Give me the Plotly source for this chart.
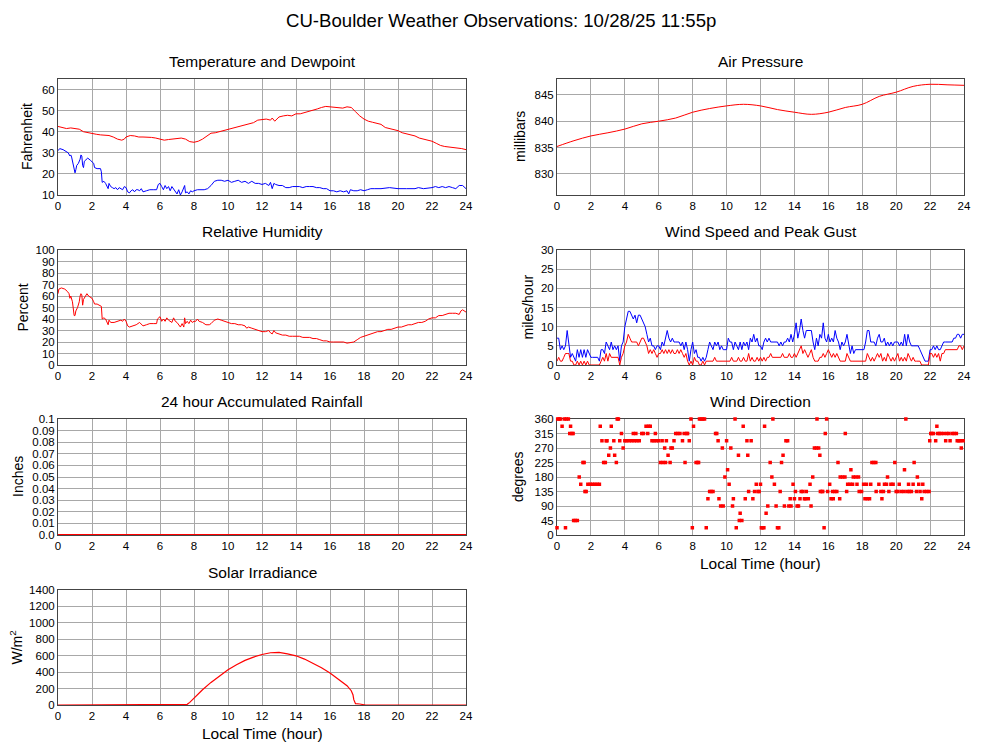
import plotly.graph_objects as go

# ---------------- DATA ----------------
temp_hours = [0, 0.25, 0.5, 0.75, 1.0, 1.25, 1.5, 1.75, 2.0, 2.25, 2.5, 2.75, 3.0, 3.25, 3.5, 3.75, 3.9,
              4.0, 4.25, 4.5, 4.75, 5.0, 5.25, 5.5, 5.75, 6.0, 6.25, 6.5, 6.75, 7.0, 7.25, 7.5, 7.75,
              8.0, 8.25, 8.5, 8.75, 9.0, 9.25, 9.5, 9.75, 10.0, 10.25, 10.5, 10.75, 11.0, 11.25, 11.5,
              11.75, 12.0, 12.25, 12.5, 12.6, 12.75, 13.0, 13.25, 13.5, 13.75, 14.0, 14.25, 14.5, 14.75,
              15.0, 15.25, 15.5, 15.75, 16.0, 16.25, 16.5, 16.75, 17.0, 17.25, 17.5, 17.75, 18.0, 18.25,
              18.5, 18.75, 19.0, 19.25, 19.5, 19.75, 20.0, 20.25, 20.5, 20.75, 21.0, 21.25, 21.5, 21.75,
              22.0, 22.25, 22.5, 22.75, 23.0, 23.25, 23.5, 23.75, 24.0]
temperature = [42.5, 42, 41.5, 41.8, 41.5, 41.2, 40, 39.5, 39, 38.8, 38.5, 38.3, 38.2, 37.5, 36.5, 36, 36.5,
               37.5, 38.2, 38, 37.5, 37.5, 37.5, 37.3, 37, 36.5, 36, 36.3, 36.5, 36.8, 37, 36.5, 35.3,
               35, 35.5, 36.5, 38, 39.3, 39.5, 40, 40.5, 41, 41.5, 42, 42.5, 43.2, 43.8, 44.3,
               45.5, 45.8, 46, 45.5, 46.5, 45, 47, 47.5, 47.8, 47.5, 48.5, 48.5, 49, 49.5,
               50, 50.8, 51.5, 52, 51.8, 51.5, 51.2, 51.2, 51.8, 51.5, 49.5, 47.5, 46, 45,
               44.5, 44, 43.5, 42, 41.5, 41, 40.5, 39.5, 39, 38.8, 38, 37, 36.5, 36,
               35.5, 34.5, 33.5, 33, 32.8, 32.5, 32.3, 32, 31.5]

dew_hours = [0, 0.1, 0.3, 0.5, 0.6, 0.7, 0.75, 0.8, 0.9, 0.95, 1.0, 1.05, 1.1, 1.2, 1.3, 1.35, 1.4, 1.45,
             1.5, 1.55, 1.65, 1.75, 1.9, 2.0, 2.1, 2.15, 2.3, 2.5, 2.55, 2.6, 2.7, 2.8, 2.9, 2.95, 3.0,
             3.1, 3.2, 3.3, 3.4, 3.5, 3.6, 3.7, 3.8, 3.9, 4.0, 4.1, 4.2, 4.3, 4.4, 4.5, 4.6, 4.7, 4.8,
             4.9, 5.0, 5.2, 5.4, 5.6, 5.8, 5.9, 6.0, 6.1, 6.2, 6.3, 6.4, 6.5, 6.6, 6.7, 6.8, 6.9, 7.0,
             7.1, 7.2, 7.3, 7.4, 7.45, 7.5, 7.6, 7.7, 7.8, 7.9, 8.0, 8.2, 8.4, 8.6, 8.8, 9.0, 9.2, 9.4,
             9.6, 9.8, 10.0, 10.2, 10.4, 10.6, 10.8, 11.0, 11.2, 11.4, 11.6, 11.8, 12.0, 12.2, 12.4,
             12.5, 12.6, 12.7, 12.8, 13.0, 13.2, 13.4, 13.6, 13.8, 14.0, 14.2, 14.4, 14.6, 14.8, 15.0,
             15.2, 15.4, 15.6, 15.8, 16.0, 16.2, 16.4, 16.6, 16.8, 17.0, 17.1, 17.2, 17.4, 17.6, 17.8,
             18.0, 18.2, 18.4, 18.6, 18.8, 19.0, 19.5, 20.0, 20.5, 21.0, 21.2, 21.5, 22.0, 22.2, 22.4,
             22.6, 22.8, 23.0, 23.2, 23.4, 23.6, 23.8, 24.0]
dewpoint = [31, 32, 31.5, 30.5, 30, 28.5, 29, 28, 24, 21, 20.5, 22, 24, 25, 27, 29, 28.5, 24,
            23, 26, 27, 27.5, 26.5, 25.5, 25, 23, 22.5, 22.5, 21, 16, 16.5, 15.5, 14, 13, 15.5,
            14, 13.5, 13, 13.5, 12.5, 13.5, 13, 12.5, 14, 13.5, 11.5, 11, 12, 12.5, 11.5, 12.5, 12.5, 12,
            13, 11.5, 12, 12.5, 12.5, 12.5, 15, 15.5, 14, 12.5, 14.5, 13, 14, 12, 14, 13, 12, 10.5,
            12.5, 10, 11.5, 13.5, 14.5, 11, 11.5, 10.5, 12, 11.5, 12, 12.5, 12.5, 12.5, 13, 14.5, 16.5, 17,
            17, 16.5, 17, 16, 16.5, 17, 16, 16.5, 15.5, 16.5, 15.5, 15.5, 15, 15.5, 14.5,
            16, 13, 15.5, 15, 14.5, 14.5, 13.5, 13.5, 14, 14, 14, 13.5, 14, 14, 14,
            13.5, 13.5, 13, 13, 12, 12, 11.5, 12, 11.5, 12, 10.5, 12.5, 12, 12, 12.5,
            12, 12.5, 13, 13, 13, 13, 13.5, 13, 13, 13, 13.5, 13, 13.5, 14, 13.5,
            14, 13.5, 14, 13.5, 13, 14.5, 14.5, 13]

press_hours = list(range(0, 25))
pressure = [835.2, 836.3, 837.2, 837.8, 838.5, 839.5, 840.0, 840.6, 841.7, 842.4, 842.9, 843.2, 842.9,
            842.2, 841.7, 841.3, 841.7, 842.6, 843.2, 844.7, 845.5, 846.6, 847.0, 846.9, 846.8]

rh_hours = [0, 0.05, 0.2, 0.4, 0.55, 0.65, 0.7, 0.75, 0.85, 0.9, 0.95, 1.0, 1.05, 1.15, 1.25, 1.3, 1.35,
            1.4, 1.45, 1.5, 1.6, 1.7, 1.8, 1.9, 2.0, 2.1, 2.15, 2.3, 2.45, 2.55, 2.6, 2.7, 2.8, 2.9, 2.95,
            3.0, 3.1, 3.3, 3.5, 3.6, 3.7, 3.8, 3.9, 4.0, 4.1, 4.2, 4.4, 4.6, 4.8, 4.9, 5.0, 5.2, 5.4, 5.6,
            5.8, 5.85, 6.0, 6.1, 6.2, 6.3, 6.4, 6.5, 6.6, 6.7, 6.8, 6.9, 7.0, 7.1, 7.2, 7.3, 7.4, 7.45,
            7.5, 7.6, 7.7, 7.8, 7.9, 8.0, 8.1, 8.2, 8.3, 8.5, 8.7, 8.9, 9.0, 9.2, 9.4, 9.6, 9.8, 10.0,
            10.2, 10.4, 10.6, 10.8, 11.0, 11.1, 11.2, 11.4, 11.6, 11.8, 12.0, 12.2, 12.4, 12.5, 12.6, 12.7,
            12.8, 13.0, 13.2, 13.4, 13.6, 13.8, 14.0, 14.2, 14.4, 14.6, 14.8, 15.0, 15.2, 15.4, 15.6,
            15.8, 16.0, 16.2, 16.4, 16.6, 16.8, 17.0, 17.2, 17.4, 17.6, 17.8, 18.0, 18.2, 18.4, 18.6,
            18.8, 19.0, 19.2, 19.4, 19.6, 19.8, 20.0, 20.2, 20.4, 20.6, 20.8, 21.0, 21.2, 21.4, 21.6,
            21.8, 22.0, 22.2, 22.4, 22.6, 22.8, 23.0, 23.2, 23.4, 23.6, 23.7, 23.8, 23.9, 24.0]
humidity = [62, 66, 67, 66, 64, 62, 58, 60, 55, 45, 43, 43, 47, 50, 55, 60, 62,
            61, 52, 57, 60, 62, 60, 59, 58, 55, 53, 53, 52, 51, 40, 41, 40, 36, 35,
            39, 37, 37, 38, 38, 39, 38, 40, 38, 34, 33, 34, 35, 37, 35, 34, 35, 36, 36,
            36, 40, 42, 38, 40, 38, 41, 39, 38, 37, 41, 38, 37, 35, 33, 36, 33, 41,
            36, 38, 36, 39, 37, 38, 38, 40, 38, 37, 35, 35, 36, 39, 40, 39, 38, 37,
            36, 36, 35, 35, 34, 32, 33, 32, 31, 30, 29, 29, 30, 28, 27, 30,
            28, 27, 26, 26, 25, 25, 25, 25, 24, 24, 24, 23, 23, 22, 21,
            21, 20, 20, 20, 20, 20, 19, 19.5, 20, 22, 24, 25, 26, 27, 28,
            29, 29, 30, 31, 31, 32, 33, 33, 34, 35, 35, 36, 37, 37, 38,
            40, 41, 41, 43, 43, 44, 45, 45, 45, 44, 47, 48, 47, 46]

wind_hours = [round(i * 0.1, 1) for i in range(241)]
wind_speed = [1, 2, 1, 1, 2, 3, 3, 3, 1, 1,
              0, 0, 1, 0, 1, 0, 1, 0, 1, 0,
              0, 0, 0, 0, 0, 0, 1, 2, 1, 3,
              1, 3, 2, 2, 2, 2, 2, 0, 2, 3,
              5, 6, 8, 7, 6, 6, 6, 6, 5, 6,
              7, 7, 6, 5, 3, 4, 3, 4, 3, 2,
              3, 3, 4, 3, 4, 3, 4, 3, 4, 3,
              3, 4, 3, 4, 3, 2, 3, 1, 0, 1,
              0, 2, 1, 1, 0, 0, 1, 0, 1, 1,
              1, 1, 1, 2, 1, 1, 1, 1, 1, 1,
              1, 1, 1, 2, 1, 1, 1, 2, 1, 1,
              2, 1, 1, 3, 1, 2, 1, 1, 2, 1,
              2, 1, 2, 1, 2, 2, 3, 2, 2, 2,
              2, 2, 2, 3, 2, 2, 2, 3, 2, 2,
              3, 2, 3, 4, 5, 3, 4, 3, 2, 3,
              4, 2, 1, 1, 1, 2, 2, 3, 2, 3,
              4, 3, 2, 3, 2, 3, 2, 1, 1, 1,
              1, 3, 2, 1, 1, 1, 1, 1, 1, 1,
              1, 1, 1, 3, 2, 1, 2, 1, 2, 3,
              2, 3, 1, 2, 1, 3, 2, 1, 2, 1,
              2, 3, 1, 2, 1, 2, 1, 3, 2, 1,
              2, 1, 1, 1, 1, 0, 0, 0, 0, 0,
              3, 3, 2, 3, 2, 3, 1, 3, 3, 4,
              4, 4, 4, 4, 4, 4, 4, 5, 5, 4,
              5]
wind_gust = [7, 7, 4, 5, 4, 5, 9, 6, 2, 3,
             2, 1, 4, 2, 4, 2, 4, 2, 4, 3,
             2, 2, 2, 2, 2, 1, 4, 4, 3, 6,
             5, 4, 6, 4, 5, 4, 5, 1, 5, 6,
             10, 12, 14, 14, 13, 12, 13, 11, 13, 13,
             12, 11, 10, 8, 6, 7, 5, 5, 4, 5,
             5, 4, 6, 5, 7, 9, 7, 6, 7, 6,
             6, 6, 6, 5, 6, 4, 6, 4, 1, 4,
             6, 3, 4, 2, 2, 1, 2, 1, 2, 4,
             6, 5, 4, 6, 5, 6, 4, 5, 4, 4,
             4, 7, 6, 6, 4, 6, 5, 4, 6, 4,
             6, 5, 6, 4, 7, 6, 8, 6, 7, 5,
             5, 4, 6, 7, 6, 7, 6, 6, 6, 6,
             6, 5, 6, 5, 6, 6, 7, 6, 8, 6,
             8, 11, 7, 9, 12, 9, 7, 9, 9, 9,
             9, 6, 4, 7, 5, 8, 7, 11, 7, 6,
             8, 6, 7, 6, 9, 7, 6, 4, 6, 5,
             6, 8, 5, 3, 5, 3, 4, 4, 4, 4,
             4, 4, 6, 9, 9, 6, 6, 6, 5, 7,
             8, 6, 6, 7, 5, 6, 5, 6, 5, 6,
             6, 6, 5, 6, 5, 8, 5, 8, 6, 5,
             5, 5, 5, 5, 4, 3, 2, 1, 1, 1,
             4, 4, 5, 4, 5, 4, 4, 5, 6, 6,
             6, 6, 6, 6, 7, 7, 8, 8, 7, 8,
             8]

rain_hours = list(range(0, 25))
rainfall = [0.0] * 25

dir_hours = [0.0, 0.04, 0.12, 0.2, 0.3, 0.43, 0.5, 0.55, 0.67, 0.75, 0.8, 0.88, 0.95, 0.98, 1.08, 1.2,
             1.31, 1.4, 1.53, 1.6, 1.65, 1.72, 1.82, 1.96, 2.1, 2.23, 2.37, 2.5, 2.55, 2.65, 2.75, 2.85,
             2.9, 2.95, 3.05, 3.15, 3.2, 3.35, 3.4, 3.5, 3.55, 3.62, 3.7, 3.8, 3.9, 4.0, 4.1, 4.25, 4.4,
             4.5, 4.55, 4.65, 4.7, 4.85, 5.0, 5.1, 5.25, 5.35, 5.4, 5.5, 5.6, 5.72, 5.8, 5.85, 6.0, 6.1,
             6.2, 6.25, 6.35, 6.4, 6.45, 6.55, 6.67, 6.72, 6.8, 6.9, 7.0, 7.12, 7.25, 7.4, 7.5, 7.55,
             7.65, 7.7, 7.8, 7.9, 7.98, 8.05, 8.2, 8.3, 8.35, 8.4, 8.5, 8.6, 8.7, 8.8, 8.9, 9.0, 9.1,
             9.2, 9.35, 9.42, 9.5, 9.55, 9.65, 9.75, 9.8, 9.9, 10.0, 10.06, 10.15, 10.25, 10.35, 10.4,
             10.5, 10.57, 10.7, 10.75, 10.8, 10.9, 10.98, 11.1, 11.2, 11.25, 11.3, 11.45, 11.55, 11.65,
             11.75, 11.85, 11.92, 12.0, 12.05, 12.12, 12.2, 12.24, 12.33, 12.43, 12.57, 12.67, 12.73,
             12.82, 12.92, 13.0, 13.08, 13.16, 13.24, 13.33, 13.41, 13.5, 13.6, 13.67, 13.75, 13.8,
             13.92, 14.0, 14.06, 14.16, 14.24, 14.33, 14.4, 14.5, 14.59, 14.65, 14.7, 14.82, 14.92,
             14.98, 15.08, 15.18, 15.3, 15.33, 15.43, 15.5, 15.53, 15.62, 15.67, 15.75, 15.82, 15.9,
             15.96, 16.08, 16.16, 16.25, 16.29, 16.38, 16.5, 16.57, 16.67, 16.7, 16.84, 16.98, 17.0,
             17.08, 17.14, 17.28, 17.33, 17.43, 17.47, 17.62, 17.69, 17.78, 17.82, 17.96, 18.08, 18.16,
             18.25, 18.3, 18.43, 18.5, 18.57, 18.68, 18.8, 18.82, 18.98, 19.1, 19.16, 19.25, 19.31,
             19.43, 19.49, 19.57, 19.69, 19.82, 19.92, 20.0, 20.1, 20.18, 20.3, 20.47, 20.49, 20.57,
             20.67, 20.73, 20.78, 20.9, 21.0, 21.06, 21.2, 21.25, 21.33, 21.41, 21.51, 21.57, 21.65,
             21.8, 21.94, 21.98, 22.04, 22.1, 22.2, 22.33, 22.4, 22.45, 22.55, 22.65, 22.8, 22.92,
             22.98, 23.1, 23.18, 23.3, 23.42, 23.55, 23.6, 23.7, 23.8, 23.84, 23.95]
dir_deg = [22.5, 360, 360, 360, 337.5, 360, 22.5, 360, 360, 315, 337.5, 315, 315, 45, 45, 45,
           180, 157.5, 225, 225, 135, 135, 157.5, 157.5, 157.5, 157.5, 157.5, 157.5, 337.5, 292.5, 225, 225,
           292.5, 292.5, 247.5, 270, 337.5, 292.5, 247.5, 225, 360, 360, 292.5, 315, 270, 292.5, 292.5, 292.5, 292.5,
           315, 292.5, 315, 292.5, 292.5, 315, 315, 337.5, 315, 337.5, 337.5, 292.5, 292.5, 315, 292.5, 292.5, 225,
           292.5, 225, 270, 225, 292.5, 247.5, 225, 270, 270, 292.5, 315, 315, 315, 292.5, 315, 225,
           315, 315, 292.5, 360, 22.5, 337.5, 225, 225, 225, 360, 360, 360, 360, 22.5, 112.5, 135, 135,
           135, 315, 315, 292.5, 112.5, 90, 270, 90, 180, 292.5, 202.5, 157.5, 270, 90, 112.5,
           360, 22.5, 247.5, 45, 67.5, 45, 337.5, 112.5, 292.5, 247.5, 135, 292.5, 112.5, 135,
           157.5, 135, 135, 157.5, 22.5, 22.5, 22.5, 337.5, 67.5, 90, 225, 180, 360,
           157.5, 90, 22.5, 22.5, 135, 225, 247.5, 90, 292.5, 292.5, 90, 112.5, 90,
           157.5, 112.5, 135, 90, 90, 112.5, 135, 135, 112.5, 112.5, 135, 112.5, 157.5,
           90, 180, 270, 270, 360, 270, 247.5, 135, 135, 135, 22.5, 315, 360,
           135, 157.5, 112.5, 135, 112.5, 135, 135, 225, 112.5, 180, 180, 180, 315,
           135, 157.5, 157.5, 202.5, 157.5, 180, 180, 157.5, 180, 135, 135, 157.5, 112.5,
           157.5, 112.5, 112.5, 157.5, 225, 225, 225, 135, 157.5, 135, 112.5, 135, 157.5,
           157.5, 180, 135, 157.5, 157.5, 225, 135, 135, 157.5, 135, 135, 202.5, 360,
           135, 157.5, 135, 135, 157.5, 225, 135, 180, 157.5, 135, 112.5, 157.5, 135,
           135, 135, 292.5, 315, 315, 315, 292.5, 337.5, 315, 315, 315, 315, 292.5,
           315, 315, 292.5, 315, 315, 315, 292.5, 292.5, 292.5, 270, 292.5]

solar_hours = [0, 2, 4, 6, 7, 7.4, 7.6, 7.75, 8.0, 8.5, 9.0, 9.5, 10.0, 10.5, 11.0, 11.5, 12.0, 12.5,
               13.0, 13.5, 14.0, 14.5, 15.0, 15.5, 16.0, 16.5, 17.0, 17.25, 17.35, 17.4, 17.45, 17.5,
               17.75, 18.0, 18.1, 20, 22, 24]
solar = [0, 0, 0, 0, 0, 0, 8, 32, 85, 186, 275, 356, 429, 490, 543, 583, 615, 636,
         640, 623, 599, 559, 510, 453, 389, 316, 235, 174, 126, 65, 24, 16,
         12, 8, 0, 0, 0, 0]

hour_ticks = list(range(0, 25, 2))
temp_ticks = [10, 20, 30, 40, 50, 60]
press_ticks = [830, 835, 840, 845]
rh_ticks = list(range(0, 101, 10))
wind_ticks = [0, 5, 10, 15, 20, 25, 30]
rain_ticks = [0, 0.01, 0.02, 0.03, 0.04, 0.05, 0.06, 0.07, 0.08, 0.09, 0.1]
rain_labels = ["0.0", "0.01", "0.02", "0.03", "0.04", "0.05", "0.06", "0.07", "0.08", "0.09", "0.1"]
dir_ticks = [0, 45, 90, 135, 180, 225, 270, 315, 360]
solar_ticks = [0, 200, 400, 600, 800, 1000, 1200, 1400]

# ---------------- LAYOUT ----------------
# The page body adds an 8 px offset, so the figure is drawn at 992x737 and
# all page-pixel positions below are shifted by that offset.
OFF = 8
W, H = 1000 - OFF, 745 - OFF
FONT = "Liberation Sans, Arial, Helvetica, sans-serif"
RED = "#ff0000"
BLUE = "#0000ff"
GRID = "#a8a8a8"
BORDER = "#444444"

LEFT = (58, 466)
RIGHT = (557, 964)
ROWS = [(79, 195), (250, 365), (419, 535), (590, 705)]


def px(x):
    return (x - OFF) / W


def py(y):
    return 1 - (y - OFF) / H


def xd(c):
    return [px(c[0]), px(c[1])]


def yd(r):
    return [py(r[1]), py(r[0])]


panels = [
    (LEFT, 0, [10, 65], temp_ticks, None, "Temperature and Dewpoint", "Fahrenheit", 27, False),
    (RIGHT, 0, [826, 848], press_ticks, None, "Air Pressure", "millibars", 520, False),
    (LEFT, 1, [0, 100], rh_ticks, None, "Relative Humidity", "Percent", 22, False),
    (RIGHT, 1, [0, 30], wind_ticks, None, "Wind Speed and Peak Gust", "miles/hour", 527, False),
    (LEFT, 2, [0, 0.1], rain_ticks, rain_labels, "24 hour Accumulated Rainfall", "Inches", 18, False),
    (RIGHT, 2, [0, 360], dir_ticks, None, "Wind Direction", "degrees", 518, True),
    (LEFT, 3, [0, 1400], solar_ticks, None, "Solar Irradiance", "W/m<sup>2</sup>", 16, True),
]

fig = go.Figure()

fig.add_trace(go.Scatter(x=temp_hours, y=temperature, mode="lines", line=dict(color=RED, width=1), xaxis="x", yaxis="y"))
fig.add_trace(go.Scatter(x=dew_hours, y=dewpoint, mode="lines", line=dict(color=BLUE, width=1), xaxis="x", yaxis="y"))
fig.add_trace(go.Scatter(x=press_hours, y=pressure, mode="lines", line=dict(color=RED, width=1, shape="spline"), xaxis="x2", yaxis="y2"))
fig.add_trace(go.Scatter(x=rh_hours, y=humidity, mode="lines", line=dict(color=RED, width=1), xaxis="x3", yaxis="y3"))
fig.add_trace(go.Scatter(x=wind_hours, y=wind_gust, mode="lines", line=dict(color=BLUE, width=1), xaxis="x4", yaxis="y4"))
fig.add_trace(go.Scatter(x=wind_hours, y=wind_speed, mode="lines", line=dict(color=RED, width=1), xaxis="x4", yaxis="y4"))
fig.add_trace(go.Scatter(x=rain_hours, y=rainfall, mode="lines", line=dict(color=RED, width=2), xaxis="x5", yaxis="y5"))
fig.add_trace(go.Scatter(x=dir_hours, y=dir_deg, mode="markers",
                         marker=dict(color=RED, size=3.5, symbol="square", line=dict(width=0)),
                         xaxis="x6", yaxis="y6", cliponaxis=False))
fig.add_trace(go.Scatter(x=solar_hours, y=solar, mode="lines", line=dict(color=RED, width=1.2), xaxis="x7", yaxis="y7"))

annotations = [dict(text="CU-Boulder Weather Observations: 10/28/25 11:55p", x=px(501), y=py(20),
                    xref="paper", yref="paper", showarrow=False, font=dict(size=18.6, color="#000", family=FONT),
                    xanchor="center", yanchor="middle")]

layout = dict(
    width=W, height=H, margin=dict(l=0, r=0, t=0, b=0, pad=0, autoexpand=False),
    paper_bgcolor="white", plot_bgcolor="white", showlegend=False,
    font=dict(family=FONT, size=11, color="#000"),
)

TICKFONT = dict(size=11.5, family=FONT, color="#000")

for i, (col, row, yr, yt, ytt, title, ytitle, ytx, showxt) in enumerate(panels):
    n = "" if i == 0 else str(i + 1)
    r = ROWS[row]
    layout["xaxis" + n] = dict(
        domain=xd(col), anchor="y" + n, range=[0, 24], tickvals=hour_ticks,
        showgrid=True, gridcolor=GRID, gridwidth=1, zeroline=False, automargin=False,
        showline=True, mirror=True, linecolor=BORDER, linewidth=1, ticks="",
        tickfont=TICKFONT, fixedrange=True, layer="below traces",
    )
    yax = dict(
        domain=yd(r), anchor="x" + n, range=yr, tickvals=yt,
        showgrid=True, gridcolor=GRID, gridwidth=1, zeroline=False, automargin=False,
        showline=True, mirror=True, linecolor=BORDER, linewidth=1, ticks="",
        tickfont=TICKFONT, fixedrange=True, layer="below traces",
    )
    if ytt is not None:
        yax["ticktext"] = ytt
    layout["yaxis" + n] = yax
    cx = px((col[0] + col[1]) / 2)
    annotations.append(dict(text=title, x=cx, y=py(r[0] - 18), xref="paper", yref="paper",
                            showarrow=False, font=dict(size=15.5, family=FONT, color="#000"),
                            xanchor="center", yanchor="middle"))
    annotations.append(dict(text=ytitle, x=px(ytx), y=py((r[0] + r[1]) / 2), xref="paper", yref="paper",
                            showarrow=False, textangle=-90, font=dict(size=14, family=FONT, color="#000"),
                            xanchor="center", yanchor="middle"))
    if showxt:
        annotations.append(dict(text="Local Time (hour)", x=cx, y=py(r[1] + 28), xref="paper",
                                yref="paper", showarrow=False, font=dict(size=15.5, family=FONT, color="#000"),
                                xanchor="center", yanchor="middle"))

layout["annotations"] = annotations
fig.update_layout(**layout)
fig.write_html("out.html")
